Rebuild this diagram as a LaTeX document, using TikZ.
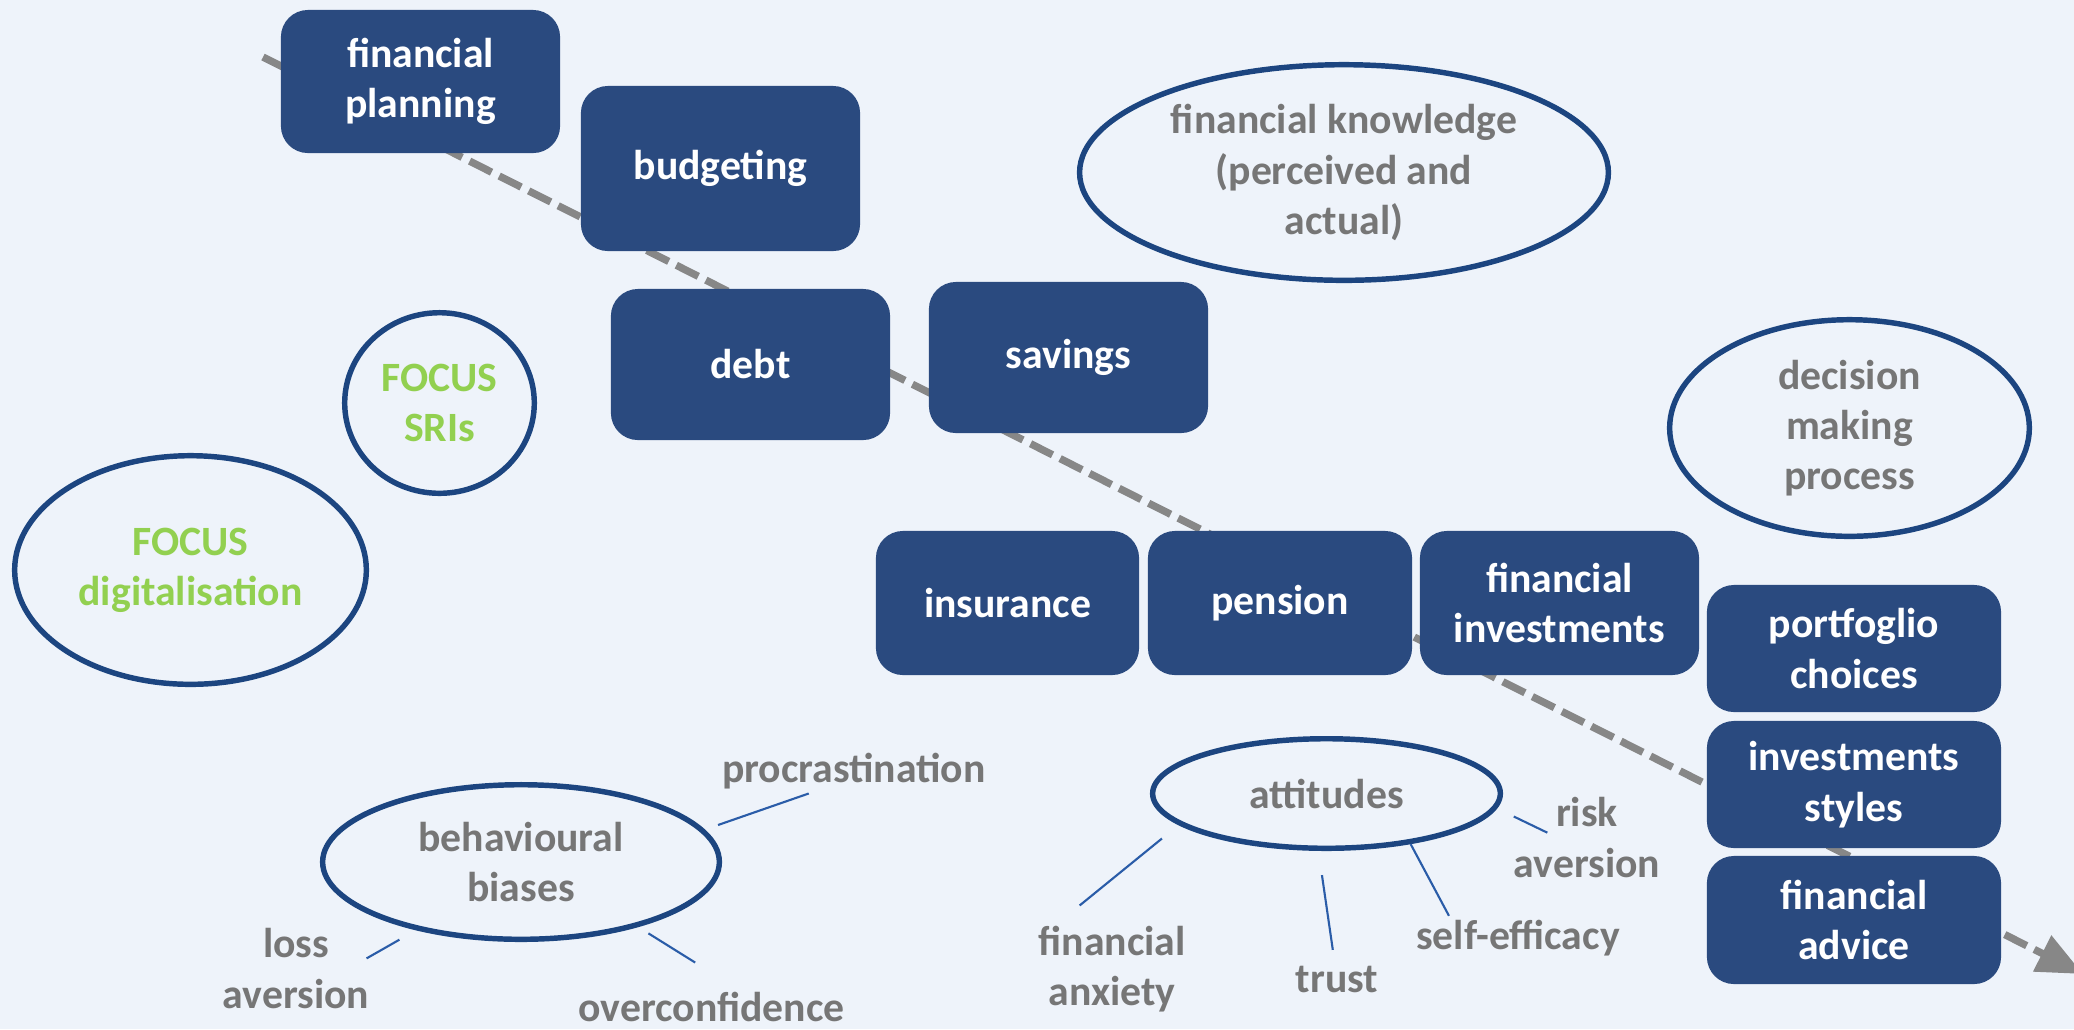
\documentclass[tikz,border=0pt]{standalone}
\usepackage{fontspec}
\setmainfont{Carlito}
\usetikzlibrary{shapes.geometric,arrows.meta}

\definecolor{paper}{HTML}{EEF3FA}
\definecolor{boxblue}{HTML}{2A4A7F}
\definecolor{ringblue}{HTML}{1C4580}
\definecolor{twigblue}{HTML}{2A5CA8}
\definecolor{notegray}{HTML}{767676}
\definecolor{flowgray}{HTML}{878787}
\definecolor{focusgreen}{HTML}{92D050}

\begin{document}
\begin{tikzpicture}[x=0.01cm, y=-0.01cm,
	font=\fontsize{11.86}{14.3}\selectfont\bfseries,
	topic/.style={rectangle, rounded corners=0.27cm, fill=boxblue, text=white, align=center, minimum width=2.79cm},
	ring/.style={ellipse, draw=ringblue, line width=1.55pt, inner sep=0pt, align=center, text=notegray},
	note/.style={inner sep=0pt, outer sep=0pt, align=center, text=notegray},
	twig/.style={draw=twigblue, line width=0.6pt},
	flow/.style={draw=flowgray, line width=2.1pt, dash pattern=on 7pt off 2.4pt, -{Triangle[length=13pt,width=11pt]}}]
	\newcommand\pagew{2074}
	\newcommand\pageh{1029}
	\fill[paper] (0,0) rectangle (\pagew,\pageh);
	\useasboundingbox (0,0) rectangle (\pagew,\pageh);

	% the long dashed arrow runs behind the boxes
	\coordinate (flowstart) at (263,57);
	\coordinate (flowend) at (2083,974);
	\draw[flow] (flowstart) -- (flowend);

	% boxes along the arrow
	\node[topic, minimum height=1.43cm] (plan) at (420.5,81.5) {financial\\planning};
	\node[topic, minimum height=1.65cm] (budget) at (720.5,168.5) {budgeting};
	\node[topic, minimum height=1.51cm] (debt) at (750.5,364.5) {debt};
	\node[topic, minimum height=1.51cm] (savings) at (1068.5,357.5) {savings};
	\node[topic, minimum width=2.63cm, minimum height=1.44cm] (insurance) at (1007.5,603) {insurance};
	\node[topic, minimum width=2.64cm, minimum height=1.44cm] (pension) at (1280,603) {pension};
	\node[topic, minimum height=1.44cm] (fininv) at (1559.5,603) {financial\\investments};
	\node[topic, minimum width=2.94cm, minimum height=1.27cm] (portfolio) at (1854,648.5) {portfoglio\\choices};
	\node[topic, minimum width=2.94cm, minimum height=1.27cm] (styles) at (1854,784.5) {investments\\styles};
	\node[topic, minimum width=2.94cm, minimum height=1.28cm] (advice) at (1854,920) {financial\\advice};

	% ellipses
	\node[ring, minimum width=5.285cm, minimum height=2.155cm] (know) at (1344,172.5) {financial knowledge\\(perceived and\\actual)};
	\node[ring, minimum width=3.595cm, minimum height=2.165cm] (decide) at (1849.5,428) {decision\\making\\process};
	\node[ring, text=focusgreen, minimum width=1.895cm, minimum height=1.805cm] (sri) at (439.5,403) {FOCUS\\SRIs};
	\node[ring, text=focusgreen, minimum width=3.515cm, minimum height=2.285cm] (digital) at (190.5,570) {FOCUS\\digitalisation};
	\node[ring, minimum width=3.965cm, minimum height=1.545cm] (bias) at (521,862) {behavioural\\biases};
	\node[ring, minimum width=3.475cm, minimum height=1.095cm] (attit) at (1326.5,793.5) {attitudes};

	% loose labels
	\node[note, anchor=base] (procr) at (854,782) {procrastination};
	\node[note] (loss) at (296,968.5) {loss\\aversion};
	\node[note, anchor=base] (overconf) at (711.5,1021) {overconfidence};
	\node[note] (anxiety) at (1112,968.75) {financial\\anxiety};
	\node[note, anchor=base] (trust) at (1337,992) {trust};
	\node[note, anchor=base] (selfeff) at (1518,949) {self-efficacy};
	\node[note] (risk) at (1587,837.5) {risk\\aversion};

	% short ticks from the ellipses
	\draw[twig, shorten <=0.14cm, shorten >=0.15cm] (bias.10) -- (procr.210);
	\draw[twig, shorten <=0.19cm, shorten >=-0.03cm] (bias.213) -- (loss.9);
	\draw[twig, shorten <=0.12cm, shorten >=0.55cm] (bias.331) -- (overconf.26);
	\draw[twig, shorten <=0.215cm, shorten >=0.32cm] (attit.192) -- (anxiety.143);
	\draw[twig, shorten <=0.244cm, shorten >=0.16cm] (attit.262) -- (trust.98);
	\draw[twig, shorten >=0.044cm] (attit.329) -- (selfeff.165);
	\draw[twig, shorten <=0.186cm, shorten >=-0.372cm] (attit.355) -- (risk.164);
\end{tikzpicture}
\end{document}
